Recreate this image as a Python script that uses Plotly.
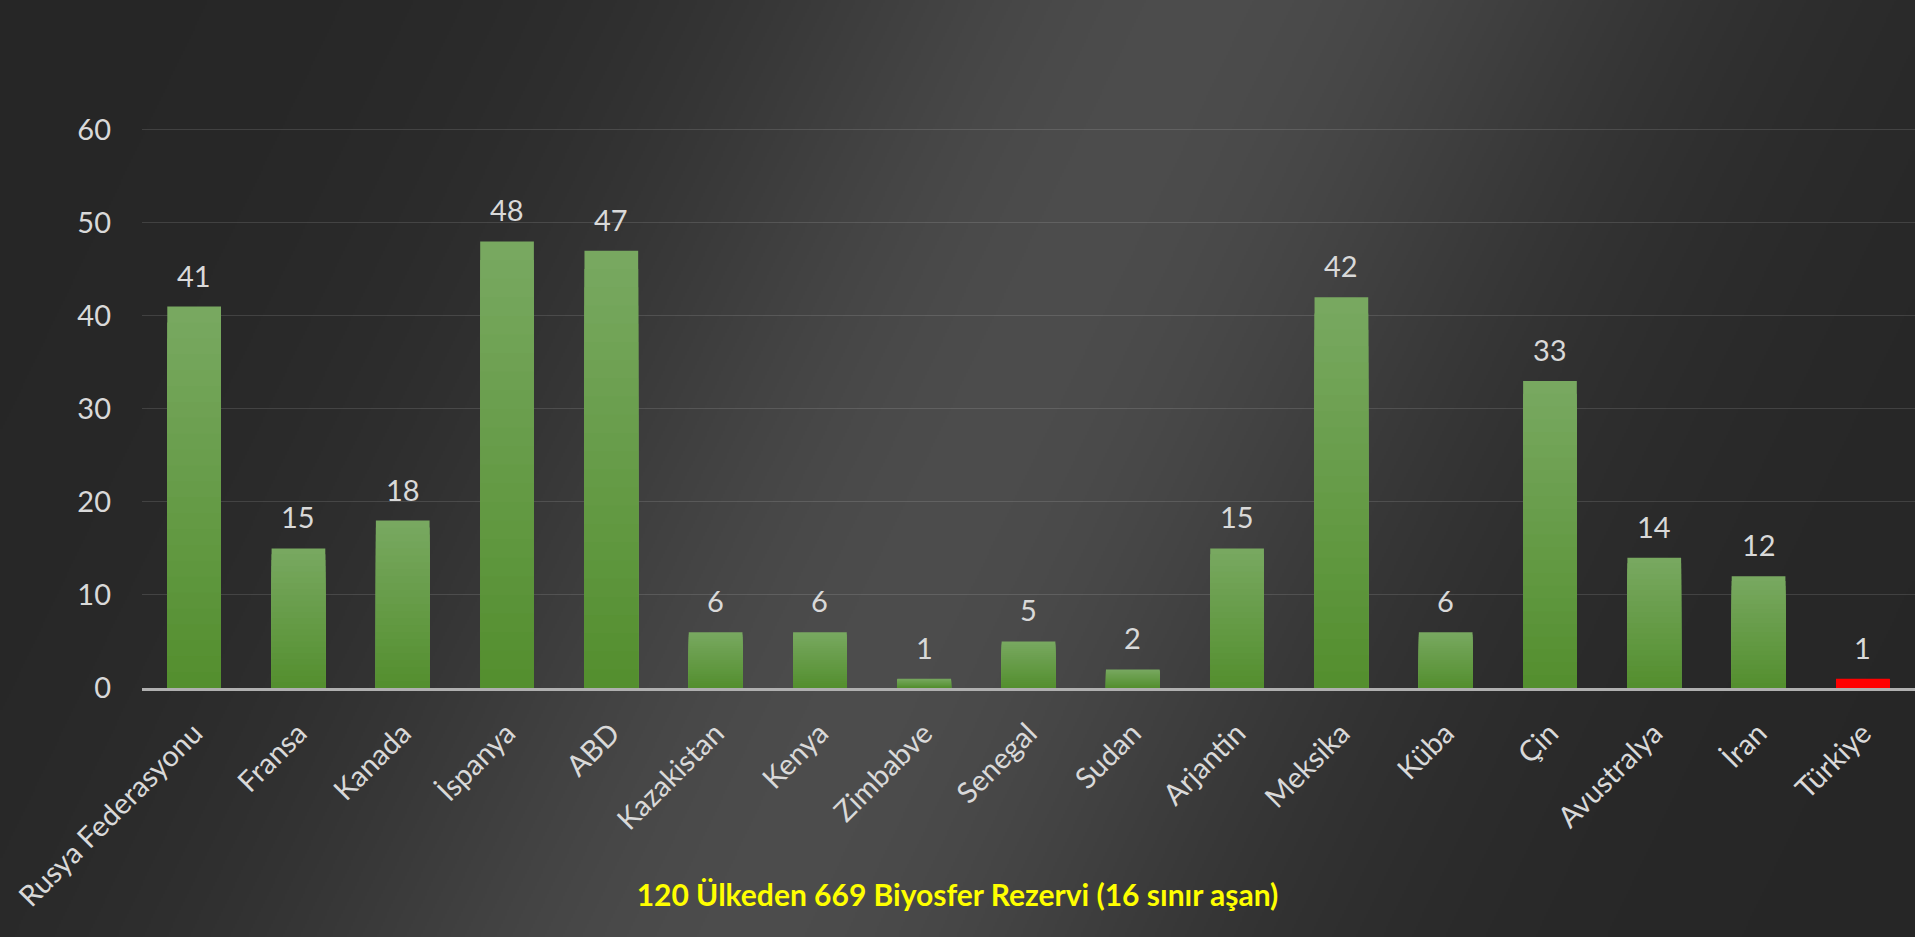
import base64
import struct
import zlib

import numpy as np
import plotly.graph_objects as go

# ---------------- data ----------------
categories = ["Rusya Federasyonu", "Fransa", "Kanada", "İspanya", "ABD", "Kazakistan",
              "Kenya", "Zimbabve", "Senegal", "Sudan", "Arjantin", "Meksika", "Küba",
              "Çin", "Avustralya", "İran", "Türkiye"]
values = [41, 15, 18, 48, 47, 6, 6, 1, 5, 2, 15, 42, 6, 33, 14, 12, 1]
highlight = "Türkiye"
y_ticks = [0, 10, 20, 30, 40, 50, 60]
title_text = "120 Ülkeden 669 Biyosfer Rezervi (16 sınır aşan)"

# ---------------- styling ----------------
W, H = 1915, 937
FONT = "Lato"
LABEL_COLOR = "#d9d9d9"
TOP_GREEN = np.array([120, 168, 96])
BOTTOM_GREEN = np.array([84, 143, 47])
RED = "#ff0000"
M_L, M_R, M_T, M_B = 142, 0, 128, 249


def png_uri(arr):
    h, w, _ = arr.shape
    raw = b"".join(b"\x00" + arr[r].tobytes() for r in range(h))

    def chunk(tag, data):
        c = struct.pack(">I", len(data)) + tag + data
        return c + struct.pack(">I", zlib.crc32(tag + data) & 0xFFFFFFFF)

    png = b"\x89PNG\r\n\x1a\n" + chunk(b"IHDR", struct.pack(">IIBBBBB", w, h, 8, 2, 0, 0, 0))
    png += chunk(b"IDAT", zlib.compress(raw, 9)) + chunk(b"IEND", b"")
    return "data:image/png;base64," + base64.b64encode(png).decode()


# background: diagonal dark-light-dark gradient
bw, bh = 958, 469
xs = (np.arange(bw) + 0.5) * W / bw
ys = (np.arange(bh) + 0.5) * H / bh
X, Y = np.meshgrid(xs, ys)
d = (X - 1200) * 0.901 + Y * 0.433
b = 38 + 38 * np.exp(-(d / 430) ** 2)
bg = np.repeat(b[:, :, None], 3, axis=2).round().astype(np.uint8)
bg_uri = png_uri(bg)

fig = go.Figure()

N = 24
for k in range(N):
    frac = (N - k) / N
    t = k / (N - 1)
    col = TOP_GREEN * (1 - t) + BOTTOM_GREEN * t
    green = "rgb(%d,%d,%d)" % tuple(col.round().astype(int))
    colors = [RED if c == highlight else green for c in categories]
    fig.add_trace(go.Bar(
        x=categories,
        y=[v * frac for v in values],
        marker=dict(color=colors, line=dict(width=0)),
        hoverinfo="skip" if k else "x+y",
        showlegend=False,
    ))

for c, v in zip(categories, values):
    fig.add_annotation(x=c, y=v, text=str(v), showarrow=False, yanchor="bottom",
                       yshift=12, font=dict(family=FONT, size=29, color=LABEL_COLOR))

plot_w = W - M_L - M_R
plot_h = H - M_T - M_B
fig.add_layout_image(dict(
    source=bg_uri, xref="paper", yref="paper",
    x=-M_L / plot_w, y=1 + M_T / plot_h,
    sizex=W / plot_w, sizey=H / plot_h,
    xanchor="left", yanchor="top", sizing="stretch", layer="below",
))

fig.update_layout(
    width=W, height=H,
    margin=dict(l=M_L, r=M_R, t=M_T, b=M_B, pad=0),
    barmode="overlay", bargap=0.485,
    paper_bgcolor="#333333", plot_bgcolor="rgba(0,0,0,0)",
    font=dict(family=FONT, size=29, color=LABEL_COLOR),
    title=dict(text=title_text, xref="container", x=0.5, xanchor="center",
               yref="container", y=1 - 895 / H, yanchor="middle",
               font=dict(family=FONT, size=30, color="#ffff00", weight="bold")),
    xaxis=dict(tickangle=-45, showgrid=False, showline=True, linecolor="#b0b0b0",
               linewidth=2.5, ticks="", ticklabelstandoff=14,
               tickfont=dict(family=FONT, size=29, color=LABEL_COLOR)),
    yaxis=dict(range=[0, 60.2], tickvals=y_ticks, showgrid=True,
               gridcolor="rgba(255,255,255,0.12)", gridwidth=1, zeroline=False,
               showline=False, ticks="", ticklabelstandoff=30,
               tickfont=dict(family=FONT, size=29, color=LABEL_COLOR)),
)

fig.write_html("out.html", config={"displayModeBar": False},
               post_script="document.body.style.margin='0';document.body.style.overflow='hidden';")
